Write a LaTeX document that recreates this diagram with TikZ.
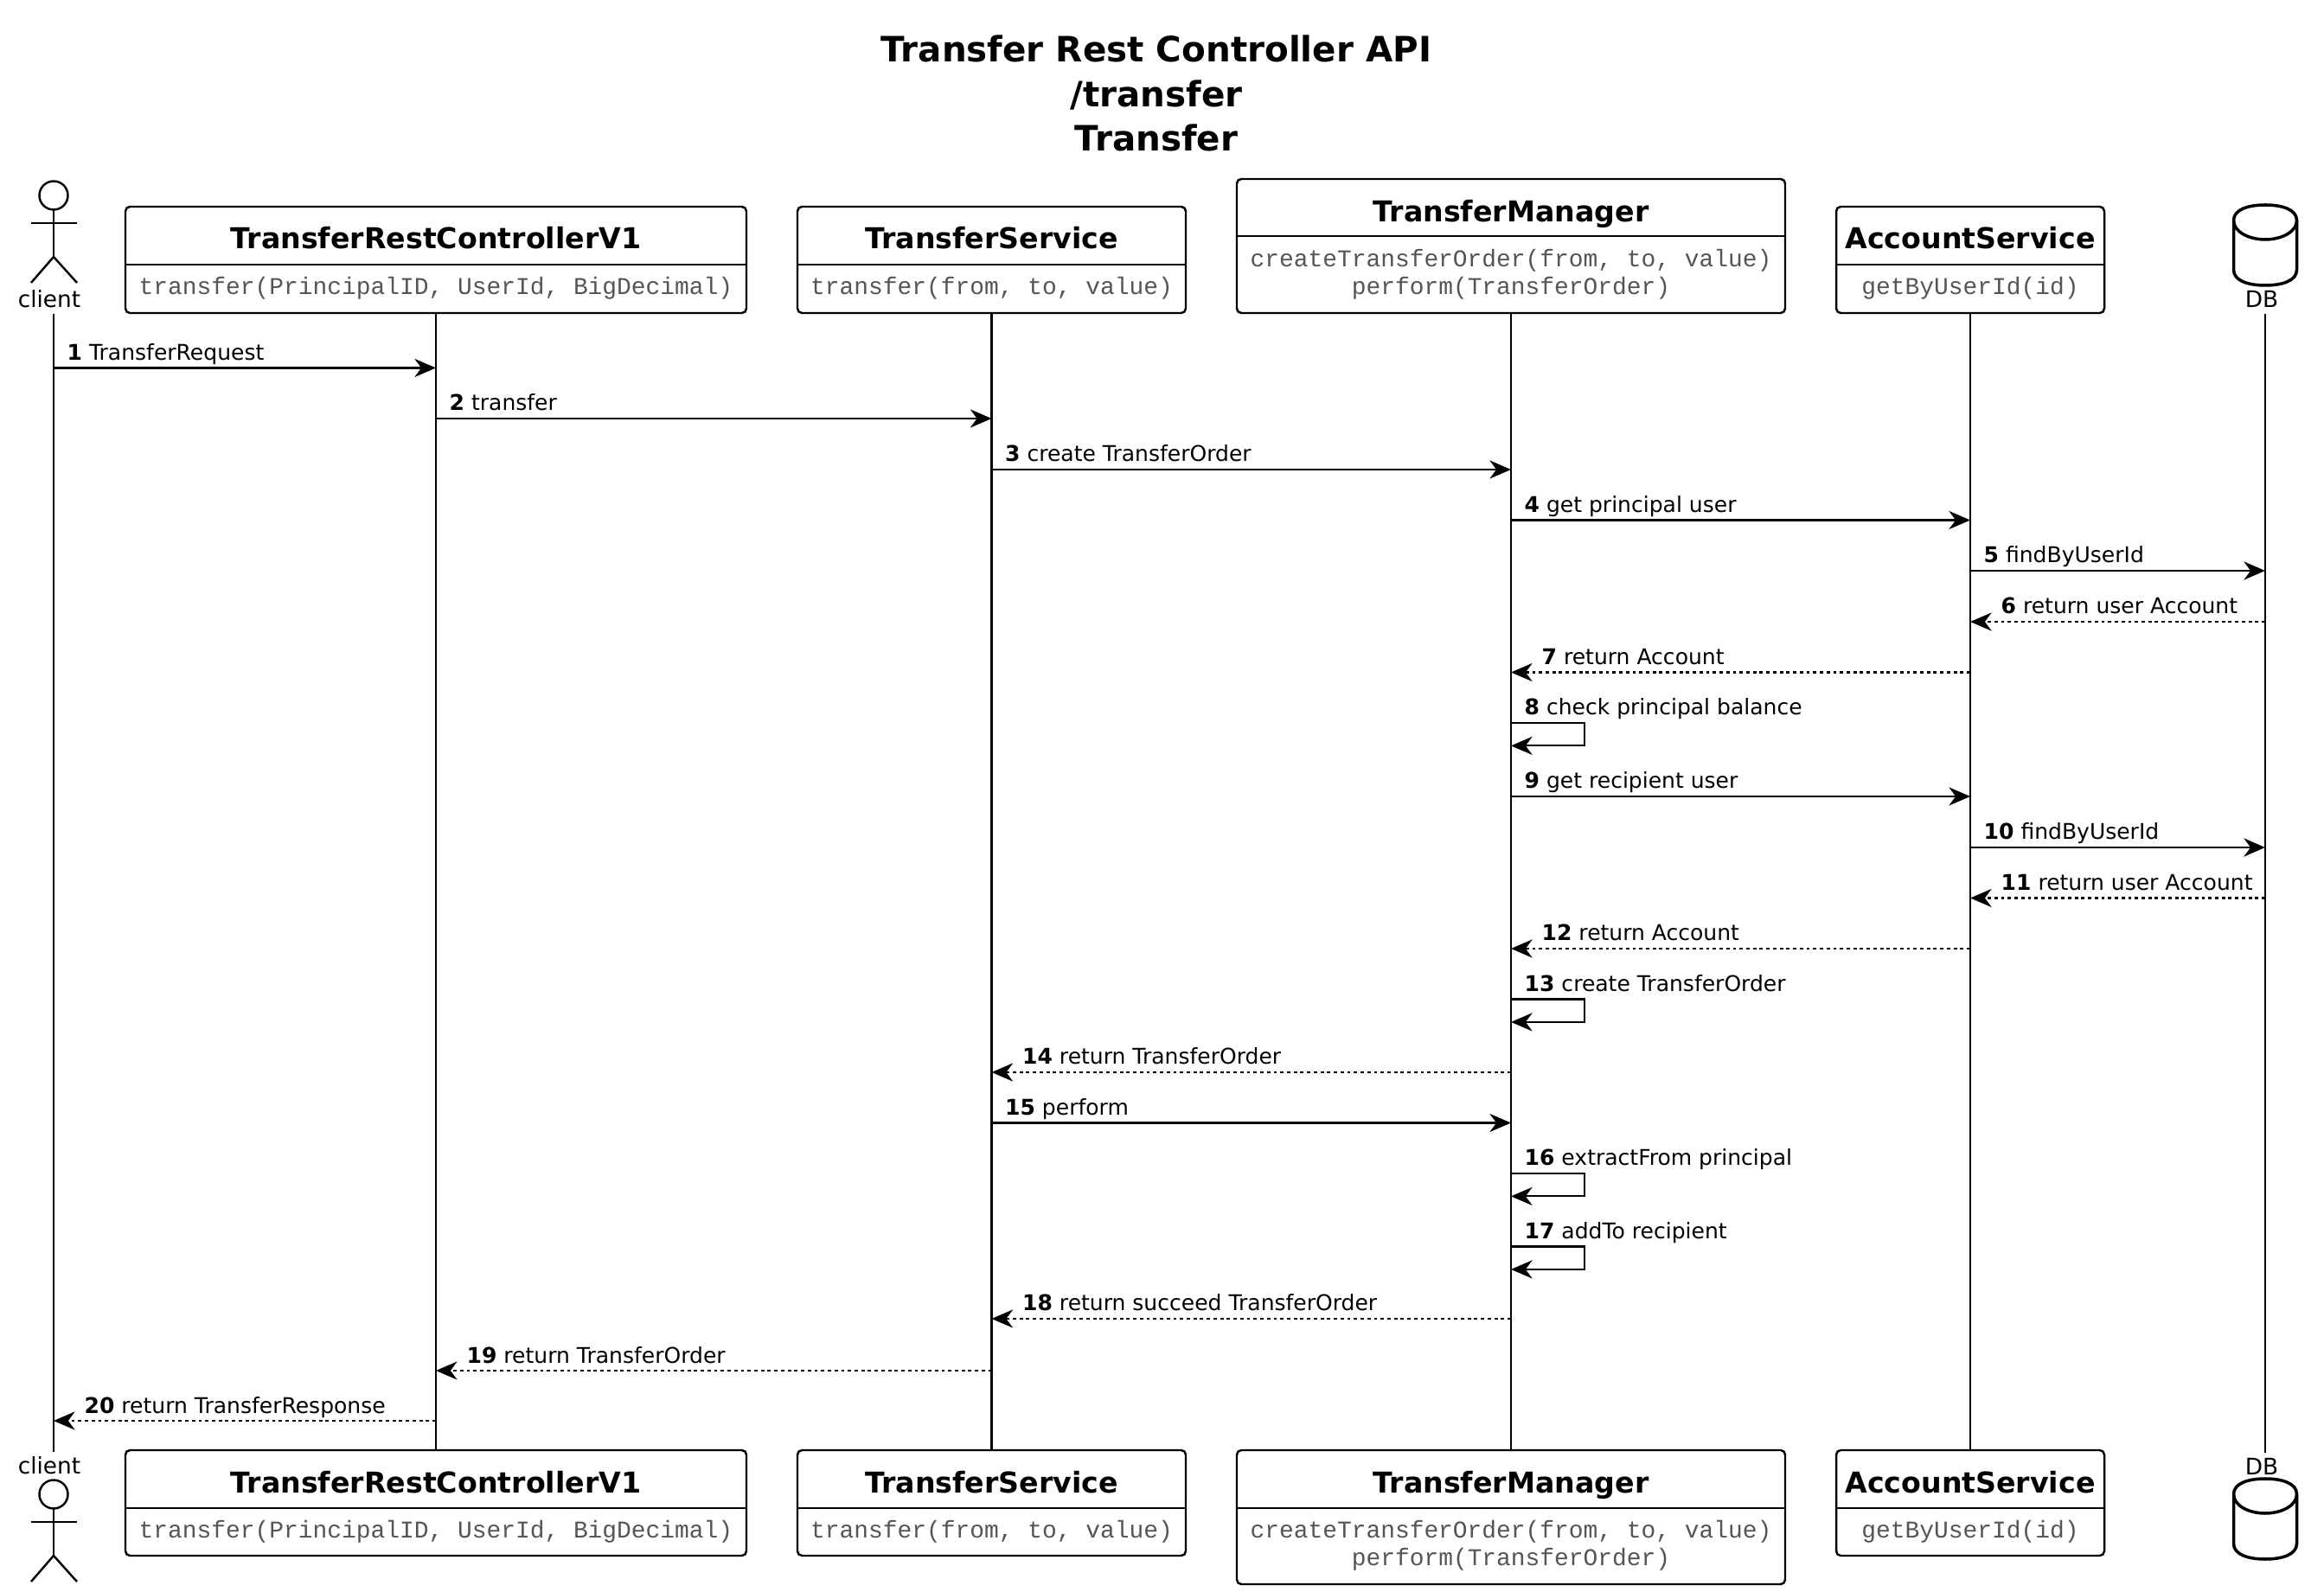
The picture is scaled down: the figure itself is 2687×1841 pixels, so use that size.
\documentclass[tikz,border=0pt]{standalone}
\usepackage{fontspec}
\setmainfont{DejaVu Sans}
\setmonofont{Liberation Mono}
\usetikzlibrary{arrows.meta}
\definecolor{SeqInk}{HTML}{000000}
\definecolor{SeqMethod}{HTML}{555555}
\newcommand{\titlefont}{\fontsize{11.5}{14.5}\selectfont\bfseries}
\newcommand{\headfont}{\fontsize{9.45}{11}\selectfont\bfseries}
\newcommand{\methodfont}{\fontsize{7.94}{9.1}\selectfont\ttfamily\color{SeqMethod}}
\newcommand{\msgfont}{\fontsize{7.12}{8.5}\selectfont}
\tikzset{
  seqbox/.style 2 args={draw=SeqInk,line width=0.7pt,rounded corners=1.5pt,fill=white,
    inner sep=0pt,minimum width=#1*0.1mm,minimum height=#2*0.1mm},
  seqhead/.style={anchor=base,inner sep=0pt,font=\headfont},
  seqmethod/.style={anchor=base,inner sep=0pt,font=\methodfont},
  seqlabel/.style={anchor=base,inner sep=0pt,font=\fontsize{7.5}{9}\selectfont},
  lifeline/.style={SeqInk,line width=0.6pt},
  msg/.style={SeqInk,line width=0.6pt,-{Stealth[length=7pt,width=6pt,inset=2.2pt]}},
  reply/.style={msg,dash pattern=on 1.1pt off 1.1pt},
  msgtext/.style={anchor=base west,inner sep=0pt,font=\msgfont},
  stick/.style={SeqInk,line width=0.7pt},
  drum/.style={SeqInk,line width=1pt,fill=white}
}

\begin{document}
\begin{tikzpicture}[x=0.1mm,y=-0.1mm]
      \useasboundingbox (0,0) rectangle (2687,1841);

      \node[anchor=base,inner sep=0pt,font=\titlefont] (title1) at (1337,71.5) {Transfer Rest Controller API};
      \node[anchor=base,inner sep=0pt,font=\titlefont] (title2) at (1337,123.5) {/transfer};
      \node[anchor=base,inner sep=0pt,font=\titlefont] (title3) at (1337,175) {Transfer};

      % participant boxes, top and bottom row
      \foreach \nm/\cx/\bw/\head/\meth in {
          ctrl/504/718/TransferRestControllerV1/{transfer(PrincipalID, UserId, BigDecimal)},
          svc/1146.5/449/TransferService/{transfer(from, to, value)},
          acct/2278/310/AccountService/{getByUserId(id)}} {
        \node[seqbox={\bw}{123}] (\nm) at (\cx,300.5) {};
        \draw[SeqInk,line width=0.7pt] (\nm.west |- 0,306) -- (\nm.east |- 0,306);
        \node[seqhead] (\nm head) at (\cx,288) {\head};
        \node[seqmethod] (\nm meth) at (\cx,340.5) {\meth};
        \node[seqbox={\bw}{122}] (\nm B) at (\cx,1738) {};
        \draw[SeqInk,line width=0.7pt] (\nm B.west |- 0,1744) -- (\nm B.east |- 0,1744);
        \node[seqhead] (\nm Bhead) at (\cx,1726.5) {\head};
        \node[seqmethod] (\nm Bmeth) at (\cx,1778.5) {\meth};
      }

      \node[seqbox={634}{155}] (mgr) at (1747,284.5) {};
      \draw[SeqInk,line width=0.7pt] (mgr.west |- 0,273) -- (mgr.east |- 0,273);
      \node[seqhead] (mgrhead) at (1747,256.5) {TransferManager};
      \node[seqmethod] (mgrmeth1) at (1747,308.5) {createTransferOrder(from, to, value)};
      \node[seqmethod] (mgrmeth2) at (1747,340.5) {perform(TransferOrder)};
      \node[seqbox={634}{155}] (mgrB) at (1747,1754.5) {};
      \draw[SeqInk,line width=0.7pt] (mgrB.west |- 0,1744) -- (mgrB.east |- 0,1744);
      \node[seqhead] (mgrBhead) at (1747,1726.5) {TransferManager};
      \node[seqmethod] (mgrBmeth1) at (1747,1778.5) {createTransferOrder(from, to, value)};
      \node[seqmethod] (mgrBmeth2) at (1747,1810.5) {perform(TransferOrder)};

      % actor and database at both ends
      \foreach \hy in {226,1728} {
        \draw[stick] (62,\hy) circle[radius=16.5];
        \draw[stick] (62,\hy+16.5) -- (62,\hy+71) (36,\hy+32) -- (89,\hy+32);
        \draw[stick] (36,\hy+101) -- (62,\hy+71) -- (89,\hy+101);
      }
      \node[seqlabel] (clientlabel) at (57,355.5) {client};
      \node[seqlabel] (clientBlabel) at (57,1704.5) {client};
      \foreach \ty in {237,1710} {
        \draw[drum] (2582.5,\ty+18) .. controls (2582.5,\ty+5) and (2600,\ty) .. (2619,\ty)
          .. controls (2638,\ty) and (2655.5,\ty+5) .. (2655.5,\ty+18)
          -- (2655.5,\ty+75) .. controls (2655.5,\ty+88) and (2638,\ty+93) .. (2619,\ty+93)
          .. controls (2600,\ty+93) and (2582.5,\ty+88) .. (2582.5,\ty+75) -- cycle;
        \draw[drum,fill=none] (2582.5,\ty+18) .. controls (2582.5,\ty+31) and (2600,\ty+40) .. (2619,\ty+40)
          .. controls (2638,\ty+40) and (2655.5,\ty+31) .. (2655.5,\ty+18);
      }
      \node[seqlabel] (dblabel) at (2615,355.5) {DB};
      \node[seqlabel] (dbBlabel) at (2615,1705) {DB};

      \coordinate (client) at (62,363);
      \coordinate (clientB) at (62,1679);
      \coordinate (db) at (2619,363);
      \coordinate (dbB) at (2619,1680);

      \foreach \p in {client,db}
        \draw[lifeline] (\p) -- (\p B);
      \foreach \p in {ctrl,svc,mgr,acct}
        \draw[lifeline] (\p.south) -- (\p B.north);

      % calls
      \foreach \i/\y/\from/\to/\txt in {
          1/425.5/client/ctrl/TransferRequest,
          2/484/ctrl/svc/transfer,
          3/543/svc/mgr/create TransferOrder,
          4/601.5/mgr/acct/get principal user,
          5/660/acct/db/findByUserId,
          9/921/mgr/acct/get recipient user,
          10/980/acct/db/findByUserId,
          15/1298.5/svc/mgr/perform} {
        \coordinate (m\i) at (0,\y);
        \draw[msg] (\from |- m\i) -- (\to |- m\i);
        \node[msgtext] (lbl\i) at ([xshift=15*0.1mm,yshift=9*0.1mm]\from |- m\i) {{\bfseries\i} \txt};
      }

      % replies
      \foreach \i/\y/\from/\to/\txt in {
          6/719/db/acct/return user Account,
          7/777.5/acct/mgr/return Account,
          11/1038.5/db/acct/return user Account,
          12/1097/acct/mgr/return Account,
          14/1240/mgr/svc/return TransferOrder,
          18/1525/mgr/svc/return succeed TransferOrder,
          19/1585/svc/ctrl/return TransferOrder,
          20/1643/ctrl/client/return TransferResponse} {
        \coordinate (m\i) at (0,\y);
        \draw[reply] (\from |- m\i) -- (\to |- m\i);
        \node[msgtext] (lbl\i) at ([xshift=35*0.1mm,yshift=9*0.1mm]\to |- m\i) {{\bfseries\i} \txt};
      }

      % self calls on the manager
      \foreach \i/\y/\txt in {
          8/836/check principal balance,
          13/1155.5/create TransferOrder,
          16/1357/extractFrom principal,
          17/1441.5/addTo recipient} {
        \coordinate (m\i) at (0,\y);
        \draw[msg] (mgr |- m\i) -- ++(85,0) -- ++(0,26.4) -- ++(-85,0);
        \node[msgtext] (lbl\i) at ([xshift=15*0.1mm,yshift=9*0.1mm]mgr |- m\i) {{\bfseries\i} \txt};
      }
    \end{tikzpicture}
\end{document}
